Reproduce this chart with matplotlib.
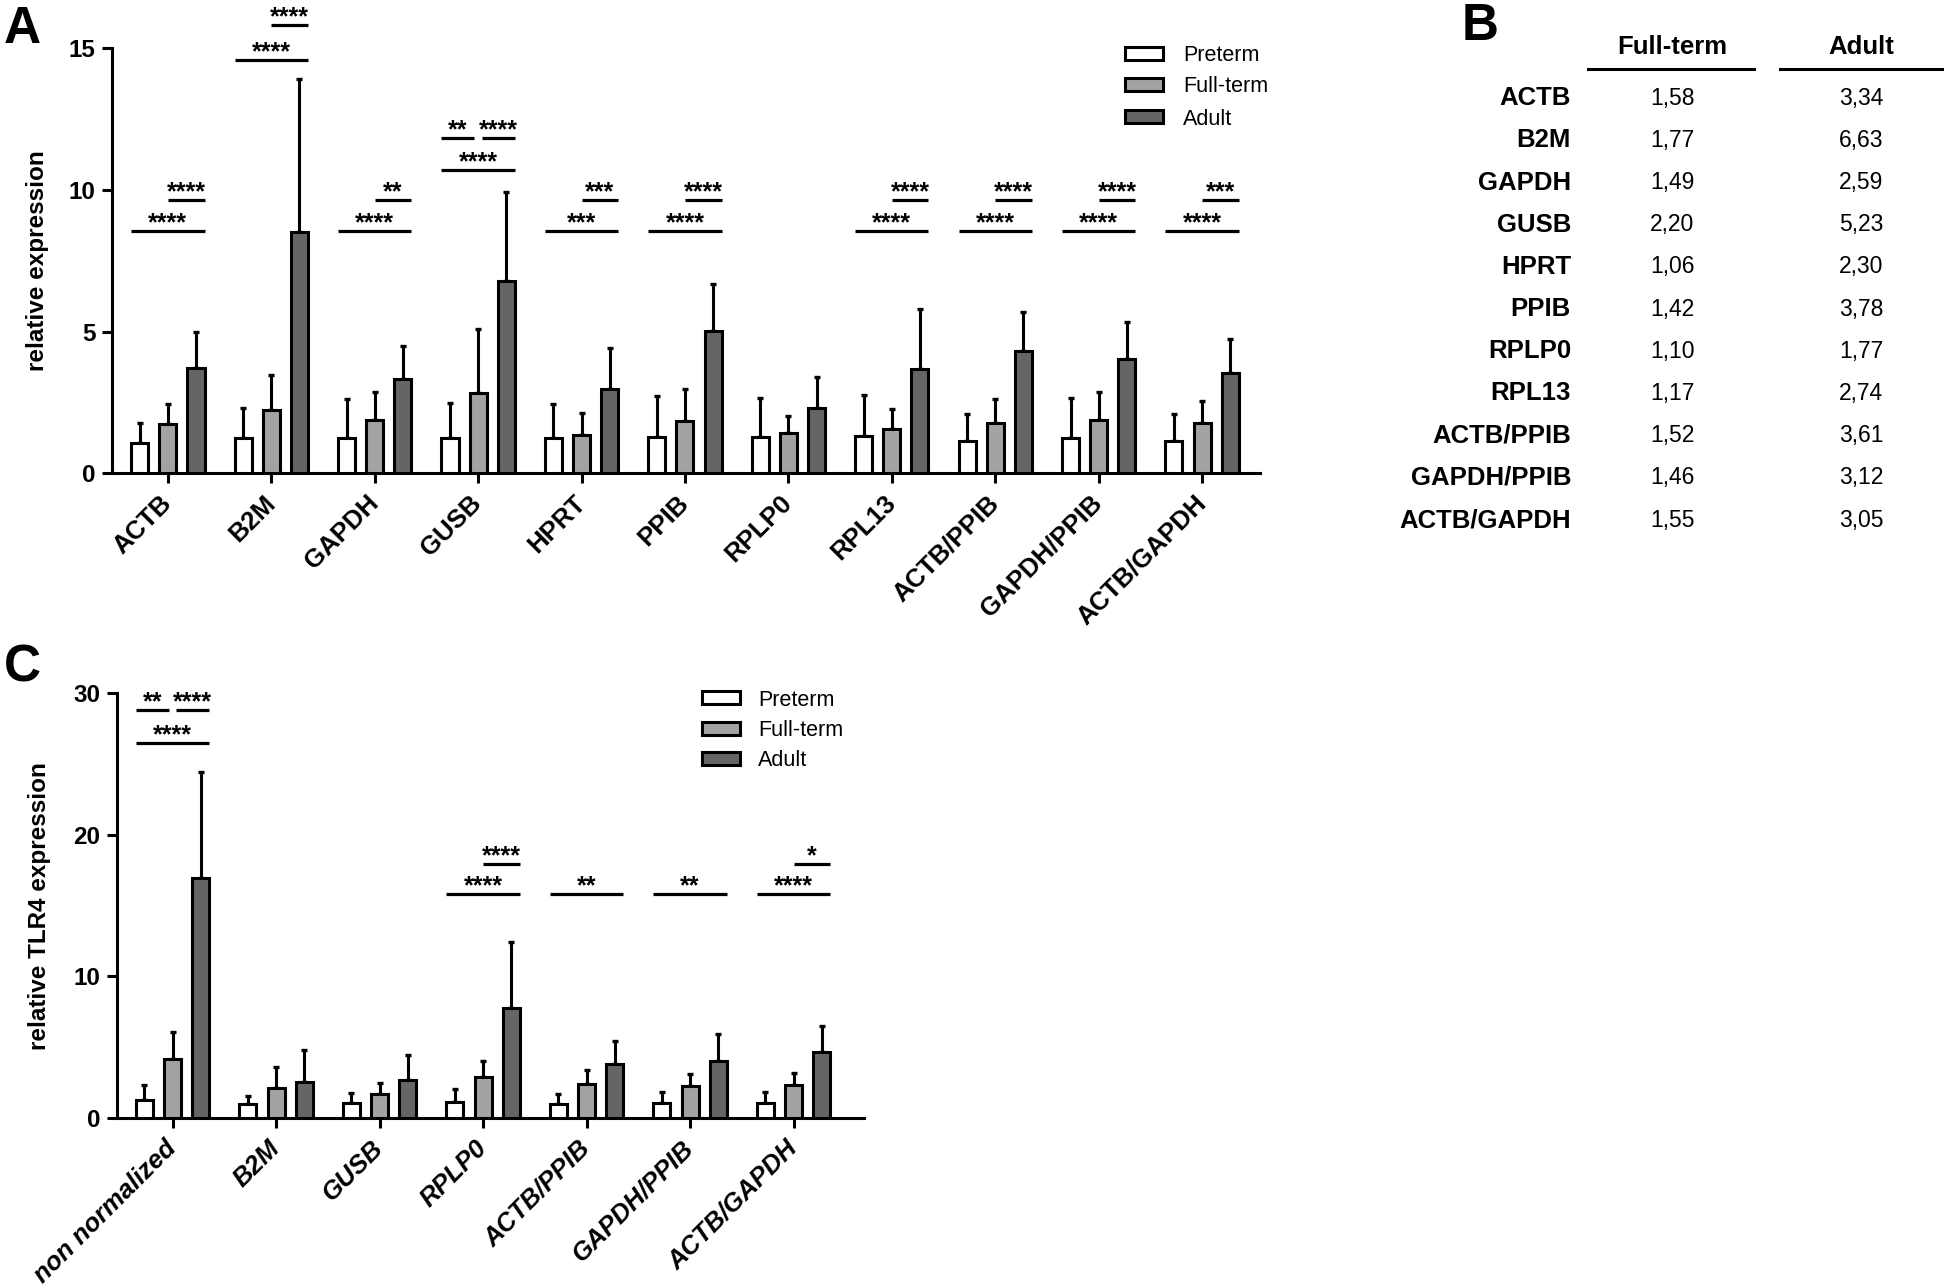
import matplotlib
matplotlib.use('Agg')
import matplotlib.pyplot as plt
from matplotlib.patches import Rectangle
from matplotlib.lines import Line2D
import numpy as np

plt.rcParams['font.family'] = ['Liberation Sans', 'DejaVu Sans']

W, H, DPI = 1946, 1285, 100

# ---------------- data ----------------
groups = ['Preterm', 'Full-term', 'Adult']
group_colors = ['#ffffff', '#a3a3a3', '#656565']

genes_A = ['ACTB', 'B2M', 'GAPDH', 'GUSB', 'HPRT', 'PPIB', 'RPLP0', 'RPL13',
           'ACTB/PPIB', 'GAPDH/PPIB', 'ACTB/GAPDH']
preterm_A = [1.08, 1.23, 1.23, 1.24, 1.25, 1.29, 1.29, 1.31, 1.15, 1.25, 1.14]
preterm_A_sd = [0.70, 1.09, 1.41, 1.24, 1.21, 1.43, 1.38, 1.44, 0.96, 1.41, 0.94]
fullterm_A = [1.73, 2.23, 1.87, 2.83, 1.35, 1.86, 1.41, 1.55, 1.78, 1.87, 1.78]
fullterm_A_sd = [0.71, 1.23, 1.00, 2.27, 0.79, 1.10, 0.62, 0.73, 0.83, 1.00, 0.77]
adult_A = [3.73, 8.52, 3.32, 6.80, 2.99, 5.04, 2.31, 3.69, 4.31, 4.02, 3.55]
adult_A_sd = [1.27, 5.40, 1.17, 3.14, 1.43, 1.64, 1.09, 2.11, 1.40, 1.31, 1.20]

# significance: (group index, comparison, height, label)
sig_A = [
    (0, 'PA', 8.55, '****'), (0, 'FA', 9.64, '****'),
    (1, 'PA', 14.58, '****'), (1, 'FA', 15.84, '****'),
    (2, 'PA', 8.55, '****'), (2, 'FA', 9.64, '**'),
    (3, 'PA', 10.71, '****'), (3, 'PF', 11.84, '**'), (3, 'FA', 11.84, '****'),
    (4, 'PA', 8.55, '***'), (4, 'FA', 9.64, '***'),
    (5, 'PA', 8.55, '****'), (5, 'FA', 9.64, '****'),
    (7, 'PA', 8.55, '****'), (7, 'FA', 9.64, '****'),
    (8, 'PA', 8.55, '****'), (8, 'FA', 9.64, '****'),
    (9, 'PA', 8.55, '****'), (9, 'FA', 9.64, '****'),
    (10, 'PA', 8.55, '****'), (10, 'FA', 9.64, '***'),
]

table_rows = ['ACTB', 'B2M', 'GAPDH', 'GUSB', 'HPRT', 'PPIB', 'RPLP0', 'RPL13',
              'ACTB/PPIB', 'GAPDH/PPIB', 'ACTB/GAPDH']
table_cols = ['Full-term', 'Adult']
table_fullterm = ['1,58', '1,77', '1,49', '2,20', '1,06', '1,42', '1,10', '1,17',
                  '1,52', '1,46', '1,55']
table_adult = ['3,34', '6,63', '2,59', '5,23', '2,30', '3,78', '1,77', '2,74',
               '3,61', '3,12', '3,05']

genes_C = ['non normalized', 'B2M', 'GUSB', 'RPLP0', 'ACTB/PPIB', 'GAPDH/PPIB',
           'ACTB/GAPDH']
preterm_C = [1.24, 1.00, 1.09, 1.12, 1.00, 1.06, 1.06]
preterm_C_sd = [1.06, 0.58, 0.66, 0.92, 0.73, 0.81, 0.78]
fullterm_C = [4.17, 2.10, 1.70, 2.90, 2.39, 2.27, 2.30]
fullterm_C_sd = [1.90, 1.52, 0.74, 1.13, 1.00, 0.83, 0.86]
adult_C = [16.94, 2.56, 2.67, 7.77, 3.83, 4.06, 4.63]
adult_C_sd = [7.53, 2.27, 1.79, 4.68, 1.58, 1.84, 1.84]

sig_C = [
    (0, 'PF', 28.8, '**'), (0, 'FA', 28.8, '****'), (0, 'PA', 26.5, '****'),
    (3, 'PA', 15.8, '****'), (3, 'FA', 17.95, '****'),
    (4, 'PA', 15.8, '**'),
    (5, 'PA', 15.8, '**'),
    (6, 'PA', 15.8, '****'), (6, 'FA', 17.95, '*'),
]

# ---------------- style ----------------
OFF = 0.272      # offset between bars in a group
BW = 0.165       # bar width
LW = 2.2         # line width (pt)

fig = plt.figure(figsize=(W / DPI, H / DPI), dpi=DPI)


def add_axes_px(left, right, top, bottom):
    return fig.add_axes([left / W, 1 - bottom / H, (right - left) / W, (bottom - top) / H])


def draw_panel(ax, genes, series, sds, ymax, yticks, xlim, ylabel, italic, sigs):
    x = np.arange(len(genes))
    for k, (vals, sd, col) in enumerate(zip(series, sds, group_colors)):
        pos = x + (k - 1) * OFF
        ax.errorbar(pos, vals, yerr=[np.zeros(len(vals)), sd], fmt='none',
                    ecolor='black', elinewidth=2.2, capsize=2.2, capthick=2.4,
                    zorder=2)
        ax.bar(pos, vals, width=BW, color=col, edgecolor='black',
               linewidth=LW, zorder=3)
    ax.set_xlim(*xlim)
    ax.set_ylim(0, ymax)
    ax.set_yticks(yticks)
    ax.set_xticks(x)
    ax.set_xticklabels(genes, rotation=45, ha='right', va='center',
                       rotation_mode='anchor', fontsize=18.5, fontweight='bold',
                       fontstyle='italic' if italic else 'normal')
    for lab in ax.get_yticklabels():
        lab.set_fontsize(17.5)
        lab.set_fontweight('bold')
    ax.tick_params(axis='both', direction='out', length=7, width=LW)
    ax.tick_params(axis='x', pad=12)
    ax.tick_params(axis='y', pad=5)
    for s in ['top', 'right']:
        ax.spines[s].set_visible(False)
    for s in ['left', 'bottom']:
        ax.spines[s].set_linewidth(LW)
    ax.set_ylabel(ylabel, fontsize=17.5, fontweight='bold')

    half = OFF + BW / 2
    for gi, comp, yv, txt in sigs:
        if comp == 'PA':
            x1, x2 = gi - half, gi + half
        elif comp == 'FA':
            paired = any(s[0] == gi and s[1] == 'PF' for s in sigs)
            x1, x2 = gi + (0.035 if paired else 0.0), gi + half
        else:
            x1, x2 = gi - half, gi - 0.035
        ax.plot([x1, x2], [yv, yv], color='black', lw=2.3, clip_on=False,
                solid_capstyle='butt', zorder=4)
        ax.annotate(txt, xy=((x1 + x2) / 2, yv), xytext=(0, 0.4),
                    textcoords='offset points', ha='center', va='baseline',
                    fontsize=18, fontweight='bold', annotation_clip=False)


def legend_px(x_box, x_text, rows_y):
    for yc, lab, col in zip(rows_y, groups, group_colors):
        fig.add_artist(Rectangle(((x_box) / W, 1 - (yc + 6.5) / H), 38 / W, 13 / H,
                                 facecolor=col, edgecolor='black', linewidth=2.2,
                                 transform=fig.transFigure))
        fig.text(x_text / W, 1 - yc / H, lab, fontsize=15.5, ha='left',
                 va='center_baseline')


# Panel A
axA = add_axes_px(112, 1260, 48.3, 473.3)
draw_panel(axA, genes_A, [preterm_A, fullterm_A, adult_A],
           [preterm_A_sd, fullterm_A_sd, adult_A_sd], 15, [0, 5, 10, 15],
           (-0.54, 10.56), 'relative expression', False, sig_A)
axA.yaxis.set_label_coords(-63 / 1148, 0.5)
legend_px(1125, 1183, [53.3, 84.5, 116.7])
fig.text(4 / W, 1 - 43 / H, 'A', fontsize=37, fontweight='bold', ha='left', va='baseline')

# Panel C
axC = add_axes_px(116.7, 864, 693.3, 1118)
draw_panel(axC, genes_C, [preterm_C, fullterm_C, adult_C],
           [preterm_C_sd, fullterm_C_sd, adult_C_sd], 30, [0, 10, 20, 30],
           (-0.54, 6.68), 'relative TLR4 expression', True, sig_C)
axC.yaxis.set_label_coords(-66 / 747.3, 0.5)
legend_px(702, 758, [697.5, 728.5, 758.5])
fig.text(4 / W, 1 - 681 / H, 'C', fontsize=37, fontweight='bold', ha='left', va='baseline')

# Panel B (table)
fig.text(1462 / W, 1 - 40 / H, 'B', fontsize=37, fontweight='bold', ha='left', va='baseline')
col_x = [1672, 1861]
col_lines = [(1588, 1754), (1780, 1942)]
for cx, (l1, l2), name in zip(col_x, col_lines, table_cols):
    fig.text(cx / W, 1 - 45 / H, name, fontsize=18.5, fontweight='bold',
             ha='center', va='center_baseline')
    fig.add_artist(Line2D([l1 / W, l2 / W], [1 - 68.5 / H, 1 - 68.5 / H],
                          color='black', lw=2.2, transform=fig.transFigure))
row_y0, row_dy = 95.6, 42.2
for i, (rn, v1, v2) in enumerate(zip(table_rows, table_fullterm, table_adult)):
    yy = 1 - (row_y0 + i * row_dy) / H
    fig.text(1571 / W, yy, rn, fontsize=18.5, fontweight='bold', ha='right',
             va='center_baseline')
    fig.text(col_x[0] / W, yy, v1, fontsize=16.5, ha='center', va='center_baseline')
    fig.text(col_x[1] / W, yy, v2, fontsize=16.5, ha='center', va='center_baseline')

fig.savefig('out.png', dpi=DPI)
